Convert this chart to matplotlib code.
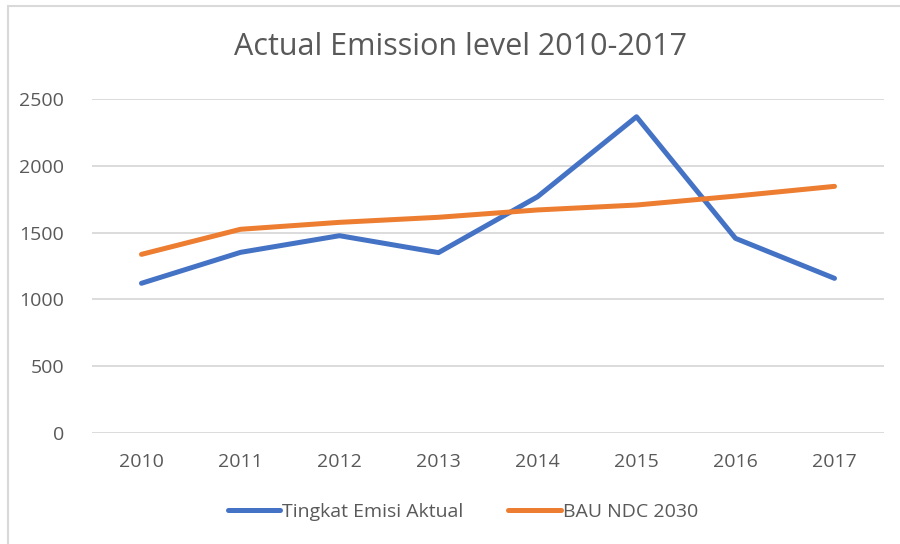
import matplotlib
matplotlib.use("Agg")
import matplotlib.pyplot as plt
from matplotlib.patches import Rectangle

years = ["2010", "2011", "2012", "2013", "2014", "2015", "2016", "2017"]
actual = [1120, 1352, 1477, 1350, 1769, 2369, 1457, 1157]
bau = [1337, 1525, 1577, 1615, 1670, 1707, 1774, 1847]
yticks = [0, 500, 1000, 1500, 2000, 2500]

plt.rcParams['font.family'] = ['Open Sans', 'DejaVu Sans']
txt = '#595959'

fig = plt.figure(figsize=(9, 5.44), dpi=100)
fig.patches.append(Rectangle((8/900, -0.1), 1.2, 1 - 6/544 + 0.1, transform=fig.transFigure,
                             fill=False, edgecolor='#D9D9D9', linewidth=1.5))
ax = fig.add_axes([92/900, 1 - 432.6/544, (884-92)/900, (432.6-99.3)/544])
x = list(range(len(years)))
ax.plot(x, actual, color='#4472C4', lw=3.6, solid_capstyle='round', solid_joinstyle='round',
        label='Tingkat Emisi Aktual')
ax.plot(x, bau, color='#ED7D31', lw=3.6, solid_capstyle='round', solid_joinstyle='round',
        label='BAU NDC 2030')
ax.set_xlim(-0.5, len(years) - 0.5)
ax.set_ylim(0, 2500)
ax.set_yticks(yticks)
ax.set_yticklabels([str(v) for v in yticks])
ax.set_xticks(x)
ax.set_xticklabels(years)
ax.grid(axis='y', color='#D9D9D9', lw=1.3)
ax.set_axisbelow(True)
for s in ax.spines.values():
    s.set_visible(False)
ax.tick_params(length=0, labelsize=14, colors=txt)
ax.tick_params(axis='y', pad=20)
ax.tick_params(axis='x', pad=15)
fig.text(461/900, 1 - 47/544, 'Actual Emission level 2010-2017', ha='center', va='center',
         fontsize=22, color=txt)
leg = fig.legend(loc='center', bbox_to_anchor=(463/900, 1 - 512/544), ncol=2, frameon=False,
                 fontsize=14, handlelength=2.7, handletextpad=0.1, columnspacing=2.3)
for t in leg.get_texts():
    t.set_color(txt)
fig.savefig('out.png', dpi=100)
